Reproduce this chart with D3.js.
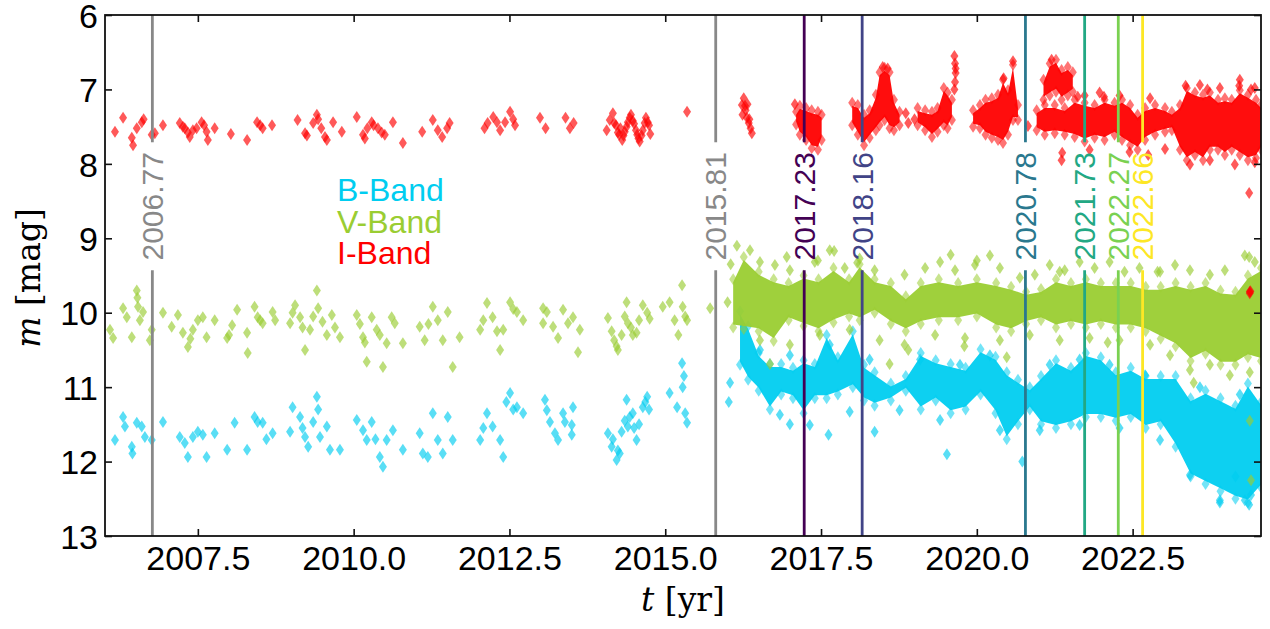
<!DOCTYPE html>
<html><head><meta charset="utf-8">
<script src="https://cdn.jsdelivr.net/npm/d3@7"></script>
<style>body{margin:0;background:#fff}svg{display:block}</style>
</head><body><svg id="c" width="1270" height="629"></svg>
<script>
// ---------------- data ----------------
const xTicks = [2007.5, 2010.0, 2012.5, 2015.0, 2017.5, 2020.0, 2022.5];
const yTicks = [6, 7, 8, 9, 10, 11, 12, 13];
const bandNames = ["B-Band", "V-Band", "I-Band"];
const bandColors = ["#00cdf0", "#9acd32", "#ff0000"];
const eventYears = [2006.77, 2015.81, 2017.23, 2018.16, 2020.78, 2021.73, 2022.27, 2022.66];
const eventColors = ["#888888", "#888888", "#440154", "#414487", "#2a788e", "#22a884", "#7ad151", "#fde725"];
const lineGap = [7.71, 9.43];   // magnitude range where the event lines break for their labels

// I band: individual observations [t, m]
const iPoints = [
[2006.17,7.57],[2006.30,7.38],[2006.44,7.65],[2006.46,7.75],[2006.52,7.52],[2006.60,7.44],[2006.63,7.40],[2006.76,7.61],[2006.81,7.59],[2006.94,7.48],
[2007.21,7.45],[2007.26,7.50],[2007.29,7.52],[2007.34,7.58],[2007.37,7.64],[2007.42,7.55],[2007.48,7.52],[2007.56,7.44],[2007.60,7.48],[2007.64,7.57],[2007.66,7.68],[2007.77,7.52],
[2008.03,7.60],[2008.29,7.68],[2008.45,7.44],[2008.50,7.48],[2008.54,7.52],[2008.69,7.48],
[2009.10,7.41],[2009.22,7.59],[2009.25,7.62],[2009.35,7.45],[2009.41,7.34],[2009.43,7.40],[2009.48,7.52],[2009.54,7.64],[2009.57,7.68],[2009.67,7.44],[2009.81,7.57],
[2010.05,7.37],[2010.15,7.61],[2010.18,7.66],[2010.22,7.52],[2010.29,7.44],[2010.32,7.48],[2010.39,7.52],[2010.45,7.58],[2010.50,7.61],[2010.63,7.44],[2010.79,7.72],
[2011.10,7.57],[2011.27,7.41],[2011.35,7.55],[2011.42,7.64],[2011.50,7.52],[2011.54,7.45],
[2012.10,7.52],[2012.15,7.45],[2012.24,7.37],[2012.30,7.44],[2012.35,7.55],[2012.43,7.44],[2012.51,7.30],[2012.56,7.40],[2012.59,7.48],
[2012.99,7.38],[2013.08,7.52],[2013.40,7.38],[2013.47,7.52],[2013.53,7.45],
[2014.06,7.55],[2014.11,7.41],[2014.16,7.32],[2014.18,7.45],[2014.21,7.48],[2014.24,7.58],[2014.26,7.61],[2014.28,7.52],[2014.31,7.68],[2014.33,7.62],
[2014.35,7.57],[2014.38,7.50],[2014.40,7.44],[2014.43,7.38],[2014.45,7.34],[2014.48,7.42],[2014.50,7.46],[2014.53,7.55],[2014.55,7.61],[2014.57,7.66],
[2014.59,7.70],[2014.62,7.62],[2014.64,7.55],[2014.67,7.45],[2014.69,7.38],[2014.72,7.44],[2014.74,7.48],[2014.76,7.60],
[2015.35,7.30],
[2016.23,7.21],[2016.24,7.34],[2016.26,7.12],[2016.29,7.28],[2016.31,7.38],[2016.32,7.20],[2016.34,7.45],[2016.37,7.52],[2016.39,7.59],[2016.28,7.22],[2016.35,7.40],
[2019.64,6.55],[2019.65,6.65],[2019.66,6.78],[2019.65,6.90],[2019.64,7.00],[2019.66,6.72],
[2018.86,7.32],[2018.90,7.45],[2019.00,7.40],[2020.82,7.49],[2021.36,7.95],[2021.37,7.85],[2024.37,8.39],[2024.38,9.72],[2024.38,9.74],[2024.39,9.71],
[2023.35,6.95],[2023.70,7.00],[2024.21,6.95],[2024.40,7.00],[2021.62,7.10],[2017.08,7.20],[2018.49,6.70],[2018.57,6.72],[2020.58,6.62],[2020.43,6.85],
[2021.20,6.60],[2022.04,7.10],[2022.75,7.88],[2023.02,7.80],
[2021.73,7.08],[2021.97,7.04],[2022.29,7.08],[2022.78,7.12],[2023.58,6.94],[2023.90,6.98],[2024.22,6.87],[2024.46,6.98],
[2021.81,7.81],[2022.45,7.84],[2023.42,8.01],[2023.74,7.95],[2024.14,8.01],[2024.46,7.98]
];
// I band: dense observing seasons [t, brightest m, faintest m]
const iDense = [
[[2017.10,7.30,7.47],[2017.16,7.22,7.61],[2017.26,7.25,7.68],[2017.35,7.28,7.79],[2017.45,7.30,7.81],[2017.51,7.34,7.68]],
[[2018.00,7.18,7.48],[2018.09,7.21,7.61],[2018.19,7.34,7.75],[2018.28,7.28,7.65],[2018.38,7.07,7.55],[2018.44,6.77,7.48],[2018.52,6.71,7.41],[2018.60,6.77,7.52],[2018.67,7.14,7.55],[2018.76,7.30,7.48]],
[[2019.05,7.25,7.48],[2019.17,7.28,7.55],[2019.28,7.30,7.64],[2019.37,7.25,7.57],[2019.47,6.98,7.48],[2019.53,7.04,7.52],[2019.60,7.14,7.41]],
[[2019.94,7.28,7.50],[2020.05,7.21,7.52],[2020.14,7.14,7.61],[2020.24,7.12,7.65],[2020.34,7.07,7.68],[2020.42,6.87,7.72],[2020.50,7.01,7.61],[2020.58,6.67,7.41],[2020.66,7.21,7.41]],
[[2021.07,6.87,7.14],[2021.17,6.65,7.08],[2021.27,6.60,7.03],[2021.36,6.74,7.14],[2021.46,6.70,7.08],[2021.54,6.77,7.03]],
[[2020.96,7.28,7.55],[2021.09,7.21,7.61],[2021.25,7.21,7.59],[2021.41,7.25,7.61],[2021.57,7.14,7.64],[2021.73,7.18,7.70],[2021.89,7.21,7.65],
 [2022.05,7.14,7.68],[2022.21,7.18,7.61],[2022.33,7.14,7.68],[2022.46,7.21,7.75],[2022.58,7.34,7.81],[2022.70,7.25,7.68],[2022.86,7.21,7.61],
 [2023.02,7.25,7.57],[2023.13,7.30,7.55],[2023.26,7.21,7.81],[2023.37,6.98,7.95],[2023.50,7.04,7.88],[2023.63,7.07,7.95],[2023.74,7.04,7.81],
 [2023.87,7.14,7.81],[2023.98,7.12,7.88],[2024.09,7.14,7.81],[2024.22,7.01,7.88],[2024.35,7.07,7.95],[2024.48,7.14,7.92],[2024.56,7.21,7.81]]
];

// V band
const vPoints = [
[2006.09,10.23],[2006.14,10.34],[2006.30,9.94],[2006.36,10.06],[2006.44,10.33],[2006.52,9.70],[2006.53,9.80],[2006.54,9.92],[2006.57,10.10],[2006.62,9.99],
[2006.73,10.37],[2006.76,10.23],[2006.94,10.00],[2007.08,10.19],[2007.18,10.03],[2007.26,10.27],[2007.34,10.46],[2007.38,10.35],[2007.42,10.23],[2007.50,10.10],
[2007.58,10.06],[2007.64,10.33],[2007.77,10.10],[2007.97,10.34],[2008.00,10.30],[2008.05,10.17],[2008.13,9.96],[2008.29,10.27],[2008.30,10.54],[2008.41,9.92],
[2008.46,10.06],[2008.50,10.10],[2008.54,10.14],[2008.70,9.99],[2008.74,10.10],[2008.98,10.14],[2009.02,10.00],[2009.06,9.90],[2009.14,10.06],[2009.18,10.20],
[2009.22,10.50],[2009.30,10.23],[2009.35,10.05],[2009.41,9.70],[2009.43,9.94],[2009.50,10.12],[2009.57,10.30],[2009.65,10.03],[2009.70,10.20],[2009.78,10.33],
[2010.05,10.03],[2010.10,10.15],[2010.15,10.33],[2010.18,10.40],[2010.21,10.66],[2010.29,10.06],[2010.37,10.23],[2010.42,10.30],[2010.47,10.73],[2010.53,10.41],
[2010.61,10.06],[2010.66,10.14],[2010.79,10.41],[2011.06,10.19],[2011.14,10.37],[2011.20,10.15],[2011.27,9.92],[2011.35,10.10],[2011.43,10.37],[2011.51,9.99],
[2011.59,10.73],[2011.70,10.33],[2012.03,10.23],[2012.08,10.10],[2012.14,9.87],[2012.23,10.06],[2012.30,10.25],[2012.35,10.50],[2012.40,10.23],[2012.51,9.86],
[2012.56,9.95],[2012.62,9.99],[2012.72,10.10],
[2013.04,9.94],[2013.04,10.14],[2013.10,9.99],[2013.20,10.19],[2013.28,10.34],[2013.36,9.96],[2013.44,10.14],[2013.52,10.06],[2013.60,10.53],[2013.63,10.23],
[2014.08,10.07],[2014.14,10.25],[2014.18,10.37],[2014.22,10.45],[2014.24,10.50],[2014.30,10.30],[2014.35,10.05],[2014.38,9.86],[2014.40,10.14],[2014.45,10.20],
[2014.48,10.30],[2014.54,10.27],[2014.58,10.10],[2014.64,9.90],[2014.71,10.00],[2014.75,10.08],
[2014.96,9.92],[2015.07,9.86],[2015.15,10.10],[2015.21,10.30],[2015.27,9.63],[2015.28,9.92],[2015.32,10.05],[2015.35,10.10],[2015.72,9.94],[2016.00,9.86],
[2017.71,9.17],[2018.08,9.33],[2019.58,9.22],[2020.00,9.30],[2021.33,9.45],[2022.90,9.45],[2024.37,9.25],[2016.68,10.69],[2018.60,10.69],[2020.48,10.60],
[2023.48,10.94],[2024.38,11.45],[2024.40,12.25],[2016.05,9.35],[2016.15,9.10],[2016.95,9.25],[2017.45,9.30],[2018.90,10.50],[2019.80,10.45],[2022.10,10.40],
[2016.36,9.16],[2016.52,9.32],[2016.76,9.36],[2017.00,9.43],[2017.40,9.32],[2017.64,9.16],[2017.88,9.40],[2018.12,9.27],[2018.36,9.43],[2018.84,9.49],
[2019.17,9.40],[2019.41,9.32],[2019.65,9.43],[2019.97,9.36],[2020.21,9.23],[2020.37,9.40],[2020.69,9.53],[2020.93,9.49],[2021.17,9.36],[2021.41,9.43],
[2021.65,9.32],[2021.89,9.40],[2022.13,9.32],[2022.37,9.45],[2022.61,9.40],[2022.94,9.45],[2023.18,9.36],[2023.42,9.43],[2023.74,9.49],[2023.98,9.43],
[2024.30,9.23],[2024.46,9.32],
[2016.52,10.37],[2017.00,10.43],[2017.48,10.30],[2017.96,10.23],[2018.44,10.37],[2018.84,10.43],[2019.33,10.30],[2019.81,10.34],[2020.37,10.37],[2020.85,10.30],
[2021.33,10.37],[2021.81,10.34],[2022.29,10.37],[2022.78,10.43],[2023.10,10.57],[2023.42,10.77],[2023.74,10.70],[2024.06,10.84],[2024.38,10.80]
];
const vDense = [[
[2016.09,9.55,10.20],[2016.26,9.25,10.22],[2016.50,9.45,10.25],[2016.74,9.55,10.38],[2016.98,9.60,10.10],[2017.22,9.50,10.18],[2017.46,9.55,10.25],
[2017.70,9.40,10.13],[2017.95,9.55,10.05],[2018.12,9.35,10.10],[2018.36,9.55,10.00],[2018.62,9.60,10.15],[2018.86,9.78,10.25],[2019.10,9.60,10.15],
[2019.39,9.55,10.10],[2019.70,9.60,10.10],[2020.00,9.55,10.05],[2020.31,9.60,10.20],[2020.55,9.65,10.25],[2020.79,9.72,10.15],[2021.03,9.68,10.10],
[2021.27,9.55,10.20],[2021.51,9.60,10.15],[2021.75,9.55,10.20],[2021.99,9.60,10.15],[2022.23,9.60,10.20],[2022.47,9.60,10.20],[2022.71,9.65,10.25],
[2022.95,9.65,10.35],[2023.19,9.60,10.45],[2023.43,9.65,10.65],[2023.67,9.60,10.55],[2023.91,9.70,10.70],[2024.15,9.72,10.70],[2024.35,9.50,10.60],[2024.56,9.40,10.65]
]];

// B band
const bPoints = [
[2006.17,11.71],[2006.30,11.40],[2006.33,11.53],[2006.44,11.80],[2006.45,11.89],[2006.52,11.48],[2006.60,11.53],[2006.65,11.67],[2006.76,11.71],[2006.94,11.47],
[2007.21,11.67],[2007.29,11.75],[2007.34,11.94],[2007.42,11.67],[2007.50,11.60],[2007.58,11.64],[2007.64,11.94],[2007.77,11.62],[2007.97,11.84],[2008.09,11.48],
[2008.29,11.84],[2008.41,11.40],[2008.46,11.47],[2008.54,11.48],[2008.60,11.70],[2008.70,11.62],[2008.98,11.60],[2009.02,11.27],[2009.14,11.40],[2009.18,11.55],
[2009.22,11.67],[2009.27,11.80],[2009.35,11.47],[2009.41,11.13],[2009.43,11.30],[2009.46,11.67],[2009.57,11.53],[2009.62,11.84],[2009.78,11.84],[2010.05,11.44],
[2010.15,11.58],[2010.21,11.71],[2010.29,11.47],[2010.35,11.70],[2010.42,11.94],[2010.47,12.07],[2010.53,11.71],[2010.63,11.58],[2010.79,11.84],[2011.06,11.62],
[2011.11,11.89],[2011.19,11.94],[2011.27,11.35],[2011.35,11.71],[2011.43,11.89],[2011.51,11.40],[2011.59,11.71],[2012.03,11.71],[2012.08,11.55],[2012.14,11.35],
[2012.23,11.53],[2012.35,11.71],[2012.40,11.94],[2012.45,11.20],[2012.51,11.08],[2012.56,11.30],[2012.62,11.27],[2012.72,11.35],
[2013.07,11.17],[2013.10,11.31],[2013.15,11.47],[2013.23,11.62],[2013.28,11.71],[2013.36,11.35],[2013.39,11.47],[2013.50,11.51],[2013.50,11.64],[2013.52,11.27],
[2014.08,11.62],[2014.14,11.80],[2014.16,11.70],[2014.22,11.98],[2014.24,11.85],[2014.27,11.89],[2014.30,11.60],[2014.35,11.45],[2014.38,11.17],[2014.40,11.53],
[2014.43,11.40],[2014.48,11.35],[2014.50,11.55],[2014.54,11.71],[2014.58,11.50],[2014.64,11.27],[2014.68,11.20],[2014.71,11.13],[2014.74,11.30],
[2015.07,11.08],[2015.19,11.27],[2015.27,10.68],[2015.28,11.00],[2015.32,11.35],[2015.35,11.48],[2015.30,10.85],
[2016.02,11.20],[2016.04,10.94],[2017.00,11.50],[2017.62,11.64],[2018.36,11.60],[2019.52,11.90],[2020.73,12.00],[2023.90,12.55],[2024.37,12.58],[2024.40,12.45],[2024.15,12.20],
[2016.52,10.50],[2017.00,10.57],[2017.64,10.43],[2018.28,10.63],[2019.09,10.63],[2019.73,10.70],[2020.21,10.57],[2021.17,10.70],[2021.65,10.63],[2022.13,10.70],
[2022.70,10.84],[2023.58,11.00],[2024.22,11.10],
[2016.84,11.37],[2017.32,11.51],[2017.96,11.33],[2018.76,11.31],[2019.41,11.44],[2020.37,11.58],[2021.01,11.58],[2021.65,11.51],[2022.29,11.55],[2022.94,11.71],
[2023.42,12.18],[2023.90,12.52],[2024.30,12.52]
];
const bDense = [[
[2016.20,9.98,10.70],[2016.33,10.18,10.90],[2016.50,10.54,11.05],[2016.68,10.69,11.30],[2016.86,10.69,11.10],[2017.05,10.74,11.15],[2017.22,10.64,11.35],
[2017.40,10.69,11.15],[2017.59,10.30,11.15],[2017.77,10.60,11.10],[2018.01,10.25,11.00],[2018.19,10.70,11.18],[2018.36,10.80,11.25],[2018.62,10.95,11.18],
[2018.86,10.85,11.05],[2019.10,10.54,11.30],[2019.34,10.64,11.18],[2019.58,10.69,11.35],[2019.82,10.74,11.30],[2020.06,10.49,11.10],[2020.30,10.59,11.35],
[2020.48,10.80,11.70],[2020.66,10.90,11.50],[2020.85,11.00,11.30],[2021.03,10.85,11.50],[2021.27,10.64,11.55],[2021.51,10.74,11.50],[2021.75,10.54,11.40],
[2021.99,10.60,11.40],[2022.23,10.80,11.45],[2022.47,10.74,11.40],[2022.71,10.85,11.55],[2022.95,10.85,11.50],[2023.19,10.85,11.80],[2023.43,11.15,12.20],
[2023.67,11.05,12.30],[2023.91,11.15,12.40],[2024.15,11.25,12.50],[2024.35,10.95,12.55],[2024.56,11.20,12.35]
]];

// ---------------- drawing ----------------
const svg = d3.select("#c");
const x = d3.scaleLinear().domain([2006.01, 2024.56]).range([105, 1261]);
const y = d3.scaleLinear().domain([6, 13]).range([15, 536]);
const sans = "'Liberation Sans', Arial, sans-serif";
const serif = "'DejaVu Serif', serif";

svg.append("defs").append("clipPath").attr("id", "clip")
  .append("rect").attr("x", 105).attr("y", 15).attr("width", 1156).attr("height", 521);
const plot = svg.append("g").attr("clip-path", "url(#clip)");

const diamond = "M0,-6L4,0L0,6L-4,0Z";
const area = d3.area().x(d => x(d[0])).y0(d => y(d[1]) + 3).y1(d => y(d[2]) - 3);

const bands = [
  {pts: bPoints, dense: bDense, color: bandColors[0]},
  {pts: vPoints, dense: vDense, color: bandColors[1]},
  {pts: iPoints, dense: iDense, color: bandColors[2]}
];
bands.forEach(b => {
  const g = plot.append("g");
  b.dense.forEach(seg => {
    g.append("path").datum(seg).attr("d", area)
      .attr("fill", b.color).attr("fill-opacity", 0.95);
    const edge = seg.flatMap(d => [[d[0], d[1]], [d[0], d[2]]]);
    g.selectAll(null).data(edge).enter().append("path")
      .attr("d", diamond)
      .attr("transform", d => `translate(${x(d[0])},${y(d[1])})`)
      .attr("fill", b.color).attr("fill-opacity", 0.55);
  });
  g.selectAll(null).data(b.pts).enter().append("path")
    .attr("d", diamond)
    .attr("transform", d => `translate(${x(d[0])},${y(d[1])})`)
    .attr("fill", b.color).attr("fill-opacity", 0.65);
});

// event lines
const ev = svg.append("g");
eventYears.forEach((t, i) => {
  const xx = x(t);
  ev.append("line").attr("x1", xx).attr("x2", xx).attr("y1", y(6)).attr("y2", y(lineGap[0]))
    .attr("stroke", eventColors[i]).attr("stroke-width", 2.8);
  ev.append("line").attr("x1", xx).attr("x2", xx).attr("y1", y(lineGap[1])).attr("y2", y(13))
    .attr("stroke", eventColors[i]).attr("stroke-width", 2.8);
  ev.append("text")
    .attr("transform", `translate(${xx + 10.7},${(y(lineGap[0]) + y(lineGap[1])) / 2}) rotate(-90)`)
    .attr("text-anchor", "middle")
    .attr("font-family", sans).attr("font-size", 30)
    .attr("fill", eventColors[i]).text(t.toFixed(2));
});

// axes
const axG = svg.append("g").attr("font-family", sans);
const axBottom = axG.append("g").attr("transform", `translate(0,${y(13)})`)
  .call(d3.axisBottom(x).tickValues(xTicks).tickFormat(d3.format(".1f")).tickSizeInner(-7).tickSizeOuter(0).tickPadding(10));
const axTop = axG.append("g").attr("transform", `translate(0,${y(6)})`)
  .call(d3.axisTop(x).tickValues(xTicks).tickFormat("").tickSizeInner(-7).tickSizeOuter(0));
const axLeft = axG.append("g").attr("transform", `translate(${x.range()[0]},0)`)
  .call(d3.axisLeft(y).tickValues(yTicks).tickFormat(d3.format("d")).tickSizeInner(-7).tickSizeOuter(0).tickPadding(7));
const axRight = axG.append("g").attr("transform", `translate(${x.range()[1]},0)`)
  .call(d3.axisRight(y).tickValues(yTicks).tickFormat("").tickSizeInner(-7).tickSizeOuter(0));
[axBottom, axTop, axLeft, axRight].forEach(a => {
  a.select(".domain").remove();
  a.selectAll(".tick line").attr("stroke", "#111").attr("stroke-width", 1.6);
  a.selectAll(".tick text").attr("font-size", 34).attr("fill", "#000").attr("font-family", sans);
});
axLeft.selectAll(".tick text").attr("dy", "0.36em");
svg.append("rect").attr("x", 105).attr("y", 15).attr("width", 1156).attr("height", 521)
  .attr("fill", "none").attr("stroke", "#111").attr("stroke-width", 1.8);

// axis titles
const xl = svg.append("text").attr("x", 683).attr("y", 611).attr("text-anchor", "middle")
  .attr("font-family", serif).attr("font-size", 33).attr("fill", "#000");
xl.append("tspan").attr("font-style", "italic").text("t");
xl.append("tspan").text(" [yr]");
const yl = svg.append("text").attr("transform", "translate(40,278) rotate(-90)").attr("text-anchor", "middle")
  .attr("font-family", serif).attr("font-size", 33).attr("fill", "#000");
yl.append("tspan").attr("font-style", "italic").text("m");
yl.append("tspan").text(" [mag]");

// legend
bandNames.forEach((n, i) => {
  svg.append("text").attr("x", 337).attr("y", 201 + i * 31.5)
    .attr("font-family", sans).attr("font-size", 32).attr("fill", bandColors[i]).text(n);
});
</script>
</body></html>
